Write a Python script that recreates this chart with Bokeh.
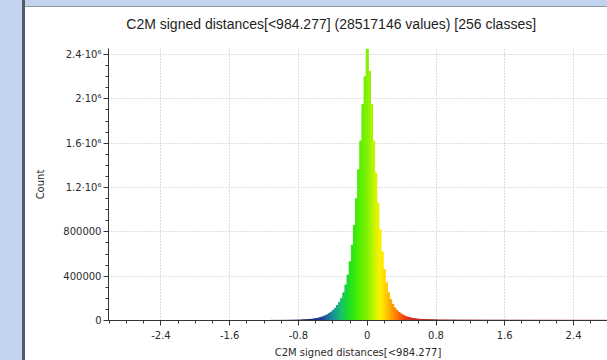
import numpy as np
from bokeh.plotting import figure
from bokeh.models import Range1d, FixedTicker, Div, ColumnDataSource
from bokeh.core.properties import value
from bokeh.layouts import row, column
from bokeh.embed import file_html
from bokeh.resources import INLINE

# ---------------- data ----------------
title_text = "C2M signed distances[<984.277] (28517146 values)  [256 classes]"
x_label_text = "C2M signed distances[<984.277]"
y_label_text = "Count"

hist_min = -3.029
hist_max = 3.301
n_classes = 256

counts = [
    # far negative tail
    8, 9, 7, 10, 9, 11, 10, 12, 11, 13, 12, 14, 13, 15, 16, 15, 17, 18, 19, 20,
    21, 22, 24, 25, 27, 28, 30, 32, 34, 36, 39, 41, 44, 47, 50, 54, 58, 62, 66, 71,
    76, 82, 88, 95, 102, 110, 118, 127, 137, 148, 160, 173, 187, 202, 218, 236, 255, 276, 298, 322,
    345, 370, 396, 424, 453, 484, 517, 552, 589, 628, 669, 712, 757, 804, 853, 904, 957, 1012, 1069, 1128, 1190, 1260,
    1400, 1600, 1800, 2100, 2400, 2800, 3200, 3700, 4300, 5000, 5800, 6800, 8000, 9500, 11500,
    14000, 17000, 21000, 26000, 32000, 40000, 49000, 60000, 74000, 90000, 110000, 135000, 165000,
    200000, 250000, 320000, 410000, 530000, 680000, 860000, 1100000, 1360000, 1620000, 1950000, 2200000,
    # peak
    2450000,
    # positive side
    2250000, 1950000, 1620000, 1330000, 1060000, 820000, 620000, 460000, 340000, 250000, 190000, 145000,
    113000, 90000, 72000, 58000, 47000, 38000, 31000, 25000, 21000, 17500, 14500, 12000, 10000,
    9000, 8200, 7500, 6900, 6400, 6000, 5700, 5400, 5150, 4950, 4750, 4600, 4450, 4300, 4200, 4100, 4000,
    3900, 3800, 3720, 3650, 3580, 3500, 3430, 3360, 3300, 3240, 3180, 3120, 3060, 3000, 2950, 2900, 2850, 2800,
    2760, 2720, 2680, 2640, 2600, 2565, 2530, 2495, 2460, 2425,
    2390, 2360, 2330, 2300, 2270, 2240, 2210, 2180, 2150, 2125,
    2100, 2075, 2050, 2025, 2000, 1975, 1950, 1930, 1910, 1890,
    1870, 1850, 1830, 1810, 1790, 1770, 1750, 1735, 1720, 1705,
    1690, 1675, 1660, 1645, 1630, 1615, 1600, 1590, 1580, 1570,
    1560, 1550, 1540, 1530, 1520, 1510, 1500, 1490, 1480, 1470,
    1460, 1450, 1440, 1430, 1420, 1410, 1400, 1390, 1380, 1370,
    1360, 1350, 1340,
]

x_tick_values = [-2.4, -1.6, -0.8, 0, 0.8, 1.6, 2.4]
x_tick_labels = ["-2.4", "-1.6", "-0.8", "0", "0.8", "1.6", "2.4"]
y_tick_values = [0, 400000, 800000, 1200000, 1600000, 2000000, 2400000]
y_tick_labels = ["0", "400000", "800000", "1.2\u00b710\u2076", "1.6\u00b710\u2076", "2\u00b710\u2076", "2.4\u00b710\u2076"]

# ---------------- styling ----------------
edges = np.linspace(hist_min, hist_max, n_classes + 1)
centers = (edges[:-1] + edges[1:]) / 2

stop_pos = [-0.70, -0.52, -0.40, -0.30, -0.20, -0.08, 0.02, 0.10, 0.16, 0.24, 0.32, 0.42, 0.52, 0.85]
stop_col = ["#1c2668", "#1f3f9c", "#1b8c9a", "#18c070", "#1ee11e", "#55f000", "#8ef200", "#d2f500",
            "#fff200", "#ffc000", "#ff8c00", "#f04a12", "#d42a1e", "#962626"]
rgb = np.array([[int(c[i:i + 2], 16) for i in (1, 3, 5)] for c in stop_col], dtype=float)
cols = []
for cx in centers:
    r = np.interp(cx, stop_pos, rgb[:, 0])
    g = np.interp(cx, stop_pos, rgb[:, 1])
    b = np.interp(cx, stop_pos, rgb[:, 2])
    cols.append("#%02x%02x%02x" % (int(r), int(g), int(b)))
line_alpha = [1.0 if c >= 1000 else 0.0 for c in counts]

src = ColumnDataSource(dict(left=edges[:-1], right=edges[1:], top=counts, color=cols, la=line_alpha))

FONT = "DejaVu Sans"
TXT = "#2b2b2b"

# ---- title strip (separate small figure so the title sits exactly where wanted) ----
TW, TH = 582, 41
pt = figure(width=TW, height=TH, x_range=Range1d(0, TW), y_range=Range1d(0, TH),
            output_backend="svg", toolbar_location=None, x_axis_type=None, y_axis_type=None,
            min_border=0, min_border_left=0, min_border_right=0, min_border_top=0, min_border_bottom=0)
pt.outline_line_color = None
pt.grid.visible = False
pt.background_fill_color = "white"
pt.border_fill_color = "white"
pt.text(x=[262], y=[TH - 16], text=[title_text], text_font=value("Liberation Sans"),
        text_font_size="14px", text_color="#1e1e1e", text_align="center", text_baseline="middle")

# ---- main chart ----
p = figure(width=582, height=312, x_range=Range1d(-3.01, 2.795), y_range=Range1d(0, 2455000),
           output_backend="svg", toolbar_location=None,
           min_border_left=83, min_border_right=0, min_border_top=0, min_border_bottom=39)
p.outline_line_color = None
p.background_fill_color = "white"
p.border_fill_color = "white"

p.quad(left="left", right="right", bottom=0, top="top", fill_color="color",
       line_color="color", line_alpha="la", line_width=1, source=src)

minor_x = [round(v, 1) for v in np.arange(-3.0, 2.81, 0.2)]
minor_y = list(range(0, 2500001, 100000))
p.xaxis.ticker = FixedTicker(ticks=x_tick_values, minor_ticks=minor_x)
p.yaxis.ticker = FixedTicker(ticks=y_tick_values, minor_ticks=minor_y)
p.xaxis.major_label_overrides = {v: s for v, s in zip(x_tick_values, x_tick_labels)}
p.yaxis.major_label_overrides = {v: s for v, s in zip(y_tick_values, y_tick_labels)}

for ax in (p.xaxis[0], p.yaxis[0]):
    ax.axis_line_color = "#333333"
    ax.major_tick_line_color = "#333333"
    ax.minor_tick_line_color = "#333333"
    ax.major_tick_out = 5
    ax.major_tick_in = 0
    ax.minor_tick_out = 3
    ax.minor_tick_in = 0
    ax.major_label_text_font = FONT
    ax.major_label_text_font_size = "10px"
    ax.major_label_text_color = TXT
    ax.axis_label_text_font = FONT
    ax.axis_label_text_font_size = "10px"
    ax.axis_label_text_font_style = "normal"
    ax.axis_label_text_color = TXT
p.xaxis.major_label_standoff = 5
p.yaxis.major_label_standoff = 2
p.xaxis.axis_label = x_label_text
p.xaxis.axis_label_standoff = 5
p.yaxis.axis_label = y_label_text
p.yaxis.axis_label_standoff = 14

for g in (p.xgrid[0], p.ygrid[0]):
    g.grid_line_color = "#bdbdbd"
    g.grid_line_dash = "1 2"
    g.grid_line_width = 1
p.xgrid.ticker = FixedTicker(ticks=x_tick_values)
p.ygrid.ticker = FixedTicker(ticks=y_tick_values)

BLUE = "#c3d3ed"
left_strip = Div(width=22, height=360, margin=0, styles={"background-color": BLUE})
left_border = Div(width=3, height=360, margin=0, styles={"background-color": "#505b69"})
top_strip = Div(width=582, height=6, margin=0, styles={"background-color": BLUE})
top_line = Div(width=582, height=1, margin=0, styles={"background-color": "#8d96a3"})

layout = row(left_strip, left_border, column(top_strip, top_line, pt, p, spacing=0), spacing=0)

open("out.html", "w").write(file_html(layout, INLINE))
